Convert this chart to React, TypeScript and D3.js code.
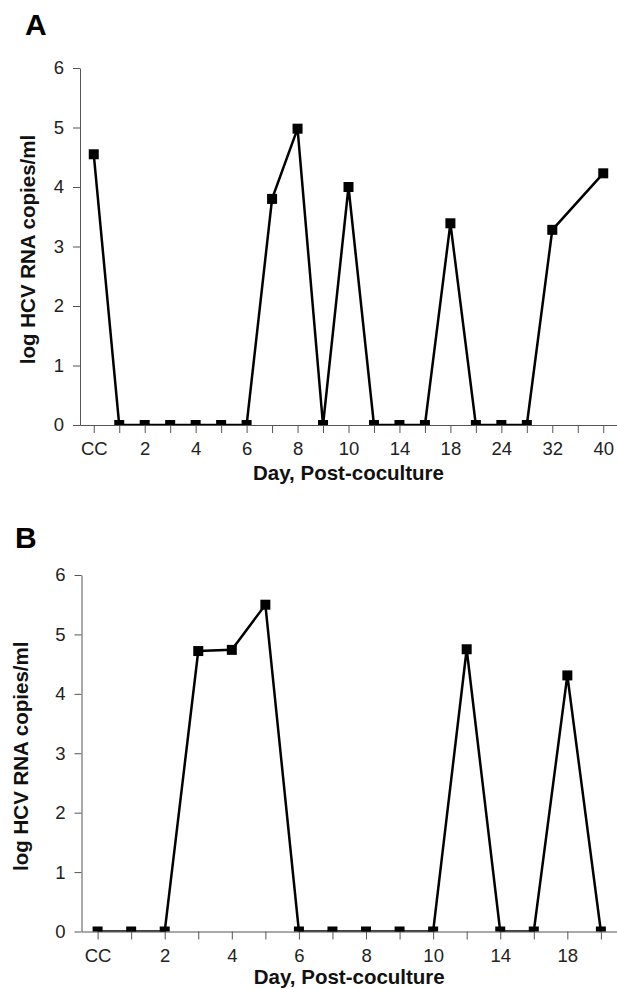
import {useEffect, useRef} from 'react';
import * as d3 from 'd3';

// Panel A
const daysA = ['CC', '1', '2', '3', '4', '5', '6', '7', '8', '9', '10', '12', '14', '16', '18', '21', '24', '28', '32', '36', '40'];
const tickLabelsA = ['CC', '2', '4', '6', '8', '10', '14', '18', '24', '32', '40'];
const valuesA = [4.55, 0, 0, 0, 0, 0, 0, 3.8, 4.98, 0, 4.0, 0, 0, 0, 3.39, 0, 0, 0, 3.28, null, 4.23];

// Panel B
const daysB = ['CC', '1', '2', '3', '4', '5', '6', '7', '8', '9', '10', '12', '14', '16', '18', '20'];
const tickLabelsB = ['CC', '2', '4', '6', '8', '10', '14', '18'];
const valuesB = [0, 0, 0, 4.72, 4.74, 5.5, 0, 0, 0, 0, 0, 4.75, 0, 0, 4.31, 0];

const yTicks = [0, 1, 2, 3, 4, 5, 6];

const FONT = '"Liberation Sans", Arial, Helvetica, sans-serif';

const App = () => {
  const svgRef = useRef<SVGSVGElement>(null);

  useEffect(() => {
    const svg = d3.select(svgRef.current);
    svg.selectAll('*').remove();

    const panels = [
      {id: 'a', letter: 'A', letterX: 25, letterY: 35, days: daysA, labels: tickLabelsA, values: valuesA,
        left: 80, top: 68, bottom: 425, padding: 0.54, yTitleX: 35, xTitleY: 480},
      {id: 'b', letter: 'B', letterX: 15, letterY: 548, days: daysB, labels: tickLabelsB, values: valuesB,
        left: 81.5, top: 575, bottom: 931.5, padding: 0.48, yTitleX: 28, xTitleY: 984},
    ];
    const right = 617;

    panels.forEach(p => {
      const x = d3.scalePoint<string>().domain(p.days).range([p.left, right]).padding(p.padding);
      const y = d3.scaleLinear().domain([0, 6]).range([p.bottom, p.top]);

      // panel letter
      svg.append('text')
        .attr('x', p.letterX)
        .attr('y', p.letterY)
        .style('font-family', FONT)
        .style('font-weight', 'bold')
        .style('font-size', '30px')
        .text(p.letter);

      // axes
      const xAxis = svg.append('g')
        .attr('transform', `translate(0, ${p.bottom})`)
        .call(d3.axisBottom(x).tickSize(8).tickSizeOuter(0).tickPadding(9)
          .tickFormat(d => (p.labels.includes(d) ? d : '')));
      const yAxis = svg.append('g')
        .attr('transform', `translate(${p.left}, 0)`)
        .call(d3.axisLeft(y).tickValues(yTicks).tickSize(7).tickSizeOuter(0).tickPadding(9)
          .tickFormat(d3.format('d')));

      [xAxis, yAxis].forEach(g => {
        g.selectAll('path, line').attr('stroke', '#555').attr('stroke-width', 1);
        g.selectAll('text')
          .style('font-family', FONT)
          .style('font-size', '18.5px')
          .attr('fill', '#222');
      });

      // clip marks at the zero line
      svg.append('clipPath')
        .attr('id', `clip-${p.id}`)
        .append('rect')
        .attr('x', p.left)
        .attr('y', 0)
        .attr('width', right - p.left)
        .attr('height', p.bottom);

      const pts = p.days
        .map((d, i) => ({day: d, v: p.values[i]}))
        .filter(d => d.v != null) as {day: string, v: number}[];

      const line = d3.line<{day: string, v: number}>()
        .x(d => x(d.day)!)
        .y(d => y(d.v));

      const marks = svg.append('g').attr('clip-path', `url(#clip-${p.id})`);

      marks.append('path')
        .datum(pts)
        .attr('fill', 'none')
        .attr('stroke', '#000')
        .attr('stroke-width', 2.5)
        .attr('d', line);

      marks.selectAll('.point')
        .data(pts)
        .enter().append('rect')
        .attr('class', 'point')
        .attr('x', d => x(d.day)! - 5)
        .attr('y', d => y(d.v) - 5)
        .attr('width', 10)
        .attr('height', 10)
        .attr('fill', '#000');

      // axis titles
      svg.append('text')
        .attr('transform', `translate(${p.yTitleX}, ${(p.top + p.bottom) / 2 + 3}) rotate(-90)`)
        .style('text-anchor', 'middle')
        .style('font-family', FONT)
        .style('font-weight', 'bold')
        .style('font-size', '20.5px')
        .attr('fill', '#111')
        .text('log HCV RNA copies/ml');

      svg.append('text')
        .attr('x', (p.left + right) / 2)
        .attr('y', p.xTitleY)
        .style('text-anchor', 'middle')
        .style('font-family', FONT)
        .style('font-weight', 'bold')
        .style('font-size', '20.5px')
        .attr('fill', '#111')
        .text('Day, Post-coculture');
    });
  }, []);

  return (
    <svg ref={svgRef} width={617} height={989}
      style={{position: 'absolute', left: 0, top: 0, background: '#fff'}}/>
  );
};

export default App;
